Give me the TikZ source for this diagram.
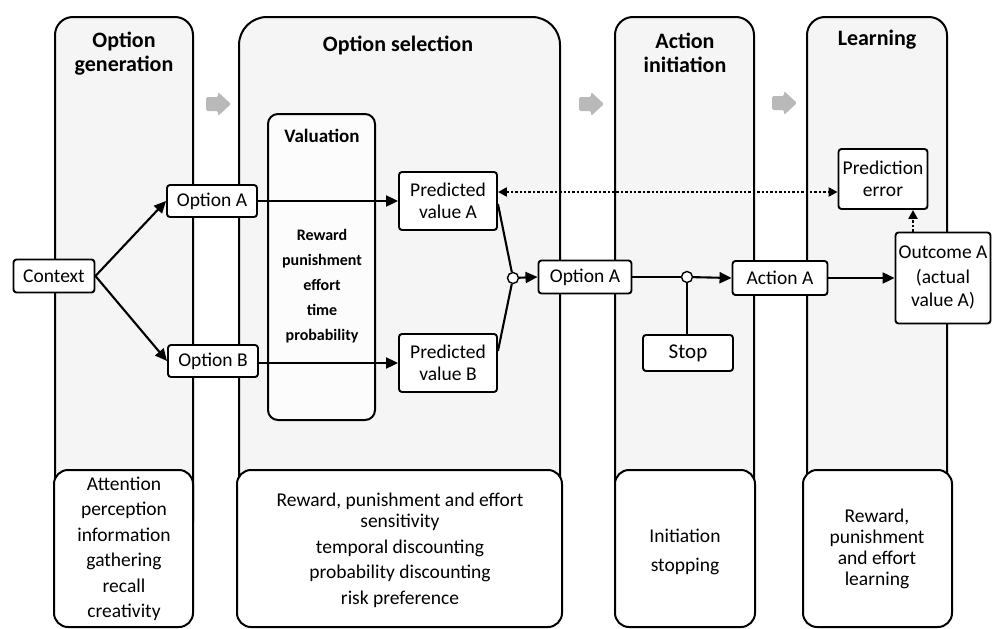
\documentclass[tikz,border=0pt]{standalone}
\usepackage{fontspec}
\setmainfont{Carlito}
\usetikzlibrary{arrows.meta}
\begin{document}
\begin{tikzpicture}[x=1pt,y=-1pt,
  col/.style={draw, line width=2pt, fill=gray!8},
  lowbox/.style={draw, line width=2pt, fill=white, rounded corners=14pt},
  valbox/.style={draw, line width=2pt, fill=gray!2, rounded corners=10pt},
  box/.style={draw, line width=1.9pt, fill=white, rounded corners=3pt, align=center, inner sep=1pt, font=\fontsize{19.5}{22}\selectfont},
  title/.style={align=center, font=\fontsize{22}{24}\selectfont\bfseries},
  lowtext/.style={align=center, font=\fontsize{19.5}{25.5}\selectfont},
  conn/.style={line width=2.1pt},
  arr/.style={conn, -{Triangle[length=12pt,width=11pt]}},
  dotarr/.style={line width=2.6pt, dash pattern=on 2.4pt off 2pt, {Triangle[length=9pt,width=9pt]}-{Triangle[length=9pt,width=9pt]}},
  dotup/.style={line width=2.6pt, dash pattern=on 2.4pt off 2pt, -{Triangle[length=9pt,width=9pt]}},
  junc/.style={circle, draw, fill=white, inner sep=0pt, minimum size=11pt, line width=1.4pt},
  garrow/.style={fill=gray!55}
]
\useasboundingbox (0,0) rectangle (996,629);
% columns
\draw[col, rounded corners=18pt] (55,17) rectangle (193,540);
\draw[col, rounded corners=28pt] (239,17) rectangle (560,540);
\draw[col, rounded corners=18pt] (615,17) rectangle (754,540);
\draw[col, rounded corners=18pt] (807,17) rectangle (947,540);
% lower boxes
\draw[lowbox] (54,470) rectangle (193,627);
\draw[lowbox] (237,470) rectangle (562,627);
\draw[lowbox] (615,470) rectangle (755,627);
\draw[lowbox] (803,470) rectangle (952,627);
% titles
\node[title] (t1) at (124,54) {Option\\generation};
\node[title] (t2) at (398,45) {Option selection};
\node[title] (t3) at (685,53) {Action\\initiation};
\node[title] (t4) at (877,40) {Learning};
% grey block arrows
\foreach \x/\y in {206/104, 579/104, 772/103}{
  \fill[garrow, rounded corners=1.5pt] (\x,\y-7) -- (\x+12,\y-7) -- (\x+12,\y-12) -- (\x+25,\y) -- (\x+12,\y+12) -- (\x+12,\y+7) -- (\x,\y+7) -- cycle;
}
% lower texts
\node[lowtext] (l1) at (124,549) {Attention\\perception\\information\\gathering\\recall\\creativity};
\node[lowtext] (l2) at (400,550) {Reward, punishment and effort\\[-4pt]sensitivity\\temporal discounting\\probability discounting\\risk preference};
\node[lowtext, font=\fontsize{19.5}{29}\selectfont] (l3) at (685,552) {Initiation\\stopping};
\node[lowtext, font=\fontsize{19.5}{21}\selectfont] (l4) at (877,549) {Reward,\\punishment\\and effort\\learning};
% valuation box
\draw[valbox] (268,114) rectangle (375,420);
\node[title, font=\fontsize{19}{21}\selectfont\bfseries] (vt) at (322,136) {Valuation};
\node[align=center, font=\fontsize{16}{25}\selectfont\bfseries] (vl) at (322,286) {Reward\\punishment\\effort\\time\\probability};
% nodes
\node[box, minimum width=81pt, minimum height=33pt] (ctx) at (54,276) {Context};
\node[box, minimum width=90pt, minimum height=32pt] (opa) at (212,201) {Option A};
\node[box, minimum width=90pt, minimum height=32pt] (opb) at (213,361) {Option B};
\node[box, minimum width=98pt, minimum height=58pt] (pva) at (448,201) {Predicted\\value A};
\node[box, minimum width=98pt, minimum height=58pt] (pvb) at (448,363) {Predicted\\value B};
\node[junc] (m1) at (513,278) {};
\node[box, minimum width=93pt, minimum height=33pt] (opa2) at (585,277) {Option A};
\node[junc] (m2) at (687,277) {};
\node[box, minimum width=90pt, minimum height=36pt, font=\fontsize{21}{24}\selectfont] (stop) at (688,353) {Stop};
\node[box, minimum width=95pt, minimum height=34pt] (act) at (780,278) {Action A};
\node[box, minimum width=95pt, minimum height=91pt, inner sep=0pt, font=\fontsize{19.5}{23}\selectfont] (out) at (943,278) {Outcome A\\[2pt](actual\\value A)};
\node[box, minimum width=89pt, minimum height=60pt, inner sep=0pt] (pe) at (883,179) {Prediction\\error};
% connectors
\draw[arr] (ctx.east) -- (opa.west);
\draw[arr] (ctx.east) -- (opb.west);
\draw[arr] (opa.east) -- (pva.west);
\draw[arr] (opb.east |- pvb.west) -- (pvb.west);
\draw[conn] ([yshift=-3pt]pva.east) -- (m1);
\draw[conn] ([yshift=12pt]pvb.east) -- (m1);
\draw[arr] (m1) -- (opa2.west);
\draw[conn] (opa2.east) -- (m2);
\draw[arr] (m2) -- (act.west);
\draw[conn] (stop.north -| m2) -- (m2);
\draw[arr] (act.east) -- (out.west |- act.east);
\coordinate (dl) at (0,192);
\coordinate (dx) at (913,0);
\draw[dotarr] (pva.east |- dl) -- (pe.west |- dl);
\draw[dotup] (out.north -| dx) -- (pe.south -| dx);
\end{tikzpicture}
\end{document}
